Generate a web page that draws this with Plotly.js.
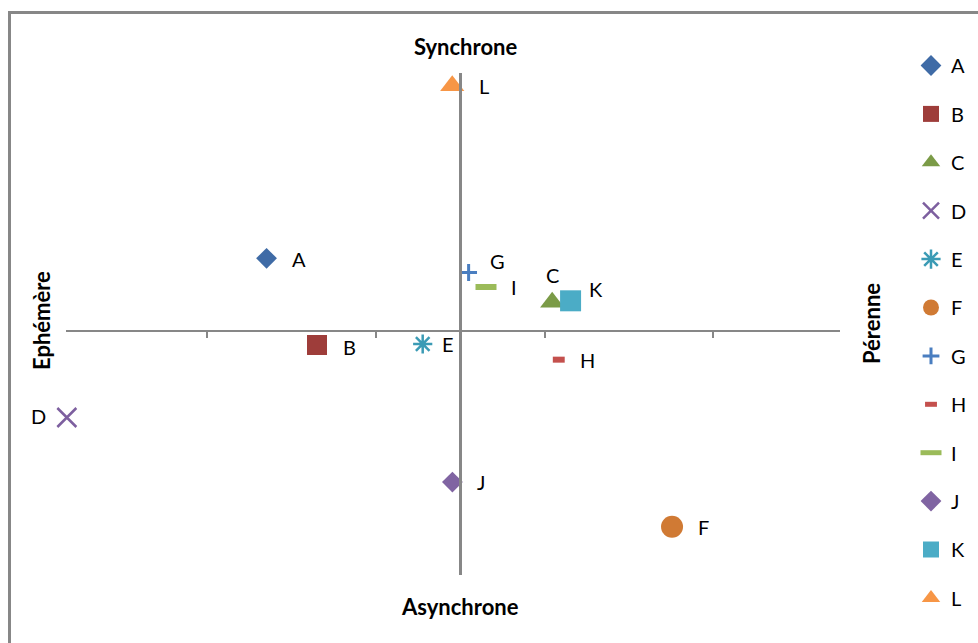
<!DOCTYPE html>
<html><head><meta charset="utf-8">
<script src="https://cdn.plot.ly/plotly-3.0.1.min.js"></script>
<style>
html,body{margin:0;padding:0;overflow:hidden;background:#fff}
#chart{width:978px;height:643px}
#frame{position:absolute;left:8px;top:11px;width:1200px;height:1000px;border-left:3px solid #878787;border-top:3px solid #878787;pointer-events:none;z-index:10}
</style></head><body>
<div id="chart"></div><div id="frame"></div>
<script>
// ---- data ----
const seriesNames = ['A','B','C','D','E','F','G','H','I','J','K','L'];
const xVals = [-1.147, -0.848, 0.545, -2.33, -0.222, 1.255, 0.050, 0.584, 0.153, -0.046, 0.654, -0.047];
const yVals = [0.431, -0.083, 0.170, -0.513, -0.077, -1.161, 0.347, -0.170, 0.261, -0.896, 0.179, 1.455];
const axisTicks = [-1.5, -0.5, 0.5, 1.5];
const titleTop = 'Synchrone', titleBottom = 'Asynchrone', titleLeft = 'Ephémère', titleRight = 'Pérenne';

// ---- styles ----
const colors = ['#3F6BA6','#9E3D3A','#7B9B47','#7D5F9F','#3B9BB5','#D07A34','#4A7EC0','#C4504D','#9BBB59','#8064A2','#4BACC6','#F79646'];
const symbols = ['diamond','square','triangle-up','x-thin-open','asterisk-open','circle','cross-thin-open','line-ew-open','line-ew-open','diamond','square','triangle-up'];
const sizes = [16, 20, 21, 19, 16, 22, 12, 8.5, 15, 16, 21, 21];
const lineW = [0, 0, 0, 2.5, 2.5, 0, 3, 6, 6, 0, 0, 0];
const labelOff = [[32,1],[32,2],[0,-27],[-28,-2],[25,0],[31,0],[29,-11],[29,0],[28,0],[29,0],[25,-12],[32,0]];

const xRange = [-2.335, 2.25];
const yRange = [-1.447, 1.530];
const FONT = 'Lato, "Liberation Sans", sans-serif';
const axisColor = '#878787';

const traces = seriesNames.map((n, i) => ({
  type: 'scatter', mode: 'markers', name: n, legendgroup: n,
  x: [xVals[i]], y: [yVals[i]], cliponaxis: false,
  marker: {symbol: symbols[i], size: sizes[i], color: colors[i],
           line: {width: lineW[i], color: colors[i]}},
  hoverinfo: 'name'
}));

const W = 978, H = 643, L = 66, R = 840, T = 73, B = 575;
const px = x => (x - L) / (R - L);
const py = y => (B - y) / (B - T);

const annotations = seriesNames.map((n, i) => ({
  x: xVals[i], y: yVals[i], xref: 'x', yref: 'y', text: n, showarrow: false,
  xanchor: 'center', yanchor: 'middle',
  xshift: labelOff[i][0], yshift: -labelOff[i][1],
  font: {family: FONT, size: 20, color: '#000'}
}));
const tf = {family: FONT, size: 22, color: '#000', weight: 'bold'};
const ta = {xref: 'paper', yref: 'paper', showarrow: false, xanchor: 'center', yanchor: 'middle', font: tf};
annotations.push(
  Object.assign({x: px(466), y: py(46), text: '<b>' + titleTop + '</b>'}, ta),
  Object.assign({x: px(460), y: py(606), text: '<b>' + titleBottom + '</b>'}, ta),
  Object.assign({x: px(41), y: py(321), text: '<b>' + titleLeft + '</b>', textangle: -90}, ta),
  Object.assign({x: px(871), y: py(324), text: '<b>' + titleRight + '</b>', textangle: -90}, ta)
);

const layout = {
  width: W, height: H,
  margin: {l: L, r: W - R, t: T, b: H - B, pad: 0},
  paper_bgcolor: '#fff', plot_bgcolor: '#fff',
  showlegend: true,
  legend: {xref: 'container', yref: 'container', x: 911 / W, y: 1 - 46 / H,
           xanchor: 'left', yanchor: 'top', tracegroupgap: 19.4, bgcolor: 'rgba(0,0,0,0)',
           maxheight: 1,
           font: {family: FONT, size: 20, color: '#000'}, traceorder: 'grouped'},
  xaxis: {range: xRange, anchor: 'free', position: -yRange[0] / (yRange[1] - yRange[0]),
          showgrid: false, zeroline: false, showline: true, linecolor: axisColor, linewidth: 2.5,
          ticks: 'outside', ticklen: 6, tickwidth: 2, tickcolor: axisColor,
          tickmode: 'array', tickvals: axisTicks, showticklabels: false, fixedrange: true},
  yaxis: {range: yRange, anchor: 'free', position: -xRange[0] / (xRange[1] - xRange[0]),
          showgrid: false, zeroline: false, showline: true, linecolor: axisColor, linewidth: 2.5,
          ticks: '', showticklabels: false, fixedrange: true},
  annotations: annotations
};
Plotly.newPlot('chart', traces, layout, {displayModeBar: false, staticPlot: true});
</script>
</body></html>
